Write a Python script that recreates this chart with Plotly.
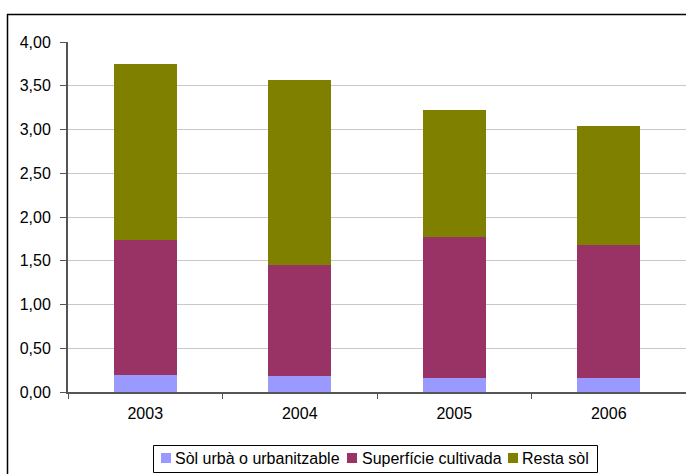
import plotly.graph_objects as go

years = ["2003", "2004", "2005", "2006"]
urba = [0.19, 0.18, 0.16, 0.16]
cultivada = [1.55, 1.27, 1.61, 1.52]
resta = [2.01, 2.12, 1.45, 1.36]
series_names = ["Sòl urbà o urbanitzable", "Superfície cultivada", "Resta sòl"]
colors = ["#9999FF", "#993366", "#808000"]
ytick_vals = [0, 0.5, 1, 1.5, 2, 2.5, 3, 3.5, 4]
ytick_text = ["0,00", "0,50", "1,00", "1,50", "2,00", "2,50", "3,00", "3,50", "4,00"]

FONT = "Liberation Sans, Arial, sans-serif"

fig = go.Figure()
for name, vals, c in zip(series_names, [urba, cultivada, resta], colors):
    fig.add_trace(go.Bar(x=years, y=vals, name=name, marker=dict(color=c, line=dict(width=0)),
                         width=0.41, showlegend=False))

W, H = 686, 474
ml, mr, mt, mb = 68, 0, 42, 82
pw, ph = W - ml - mr, H - mt - mb

def px(x):
    return (x - ml) / pw

def py(y):
    return (H - mb - y) / ph

fig.update_layout(
    width=W, height=H,
    margin=dict(l=ml, r=mr, t=mt, b=mb, pad=0),
    barmode="stack",
    plot_bgcolor="white", paper_bgcolor="white",
    font=dict(family=FONT, size=16, color="#000000"),
    showlegend=False,
    xaxis=dict(type="category", tickson="boundaries", ticks="outside", ticklen=5,
               tickcolor="#555555", showline=True, linecolor="#555555", linewidth=2,
               showgrid=False, range=[-0.5, 3.5], ticklabelstandoff=6),
    yaxis=dict(range=[0, 4], tickvals=ytick_vals, ticktext=ytick_text, ticks="outside",
               ticklen=6, tickcolor="#555555", showline=True, linecolor="#555555", linewidth=2,
               showgrid=True, gridcolor="#c8c8c8", gridwidth=1, zeroline=False,
               ticklabelstandoff=6),
)

# outer chart frame (partially visible)
fig.add_shape(type="line", xref="paper", yref="paper", x0=px(7.5), x1=px(7.5), y0=py(480), y1=py(14),
              line=dict(color="#000000", width=1.5))
fig.add_shape(type="line", xref="paper", yref="paper", x0=px(7), x1=px(700), y0=py(14.5), y1=py(14.5),
              line=dict(color="#000000", width=1.5))

# legend drawn manually to match the original compact layout
fig.add_shape(type="rect", xref="paper", yref="paper", x0=px(153.5), x1=px(597.5), y0=py(445.5), y1=py(472.5),
              line=dict(color="#000000", width=1), fillcolor="white")
sym_x = [161, 347, 508]
txt_x = [174, 361, 521]
ymid = 458
for name, c, sx, tx in zip(series_names, colors, sym_x, txt_x):
    fig.add_shape(type="rect", xref="paper", yref="paper", x0=px(sx), x1=px(sx + 10),
                  y0=py(ymid + 5), y1=py(ymid - 5), line=dict(width=0), fillcolor=c)
    fig.add_annotation(xref="paper", yref="paper", x=px(tx), y=py(ymid), text=name, showarrow=False,
                       xanchor="left", yanchor="middle", font=dict(family=FONT, size=16, color="#000000"),
                       borderpad=0)

fig.write_html("out.html", config={"displayModeBar": False},
               post_script="document.body.style.margin='0px';")
